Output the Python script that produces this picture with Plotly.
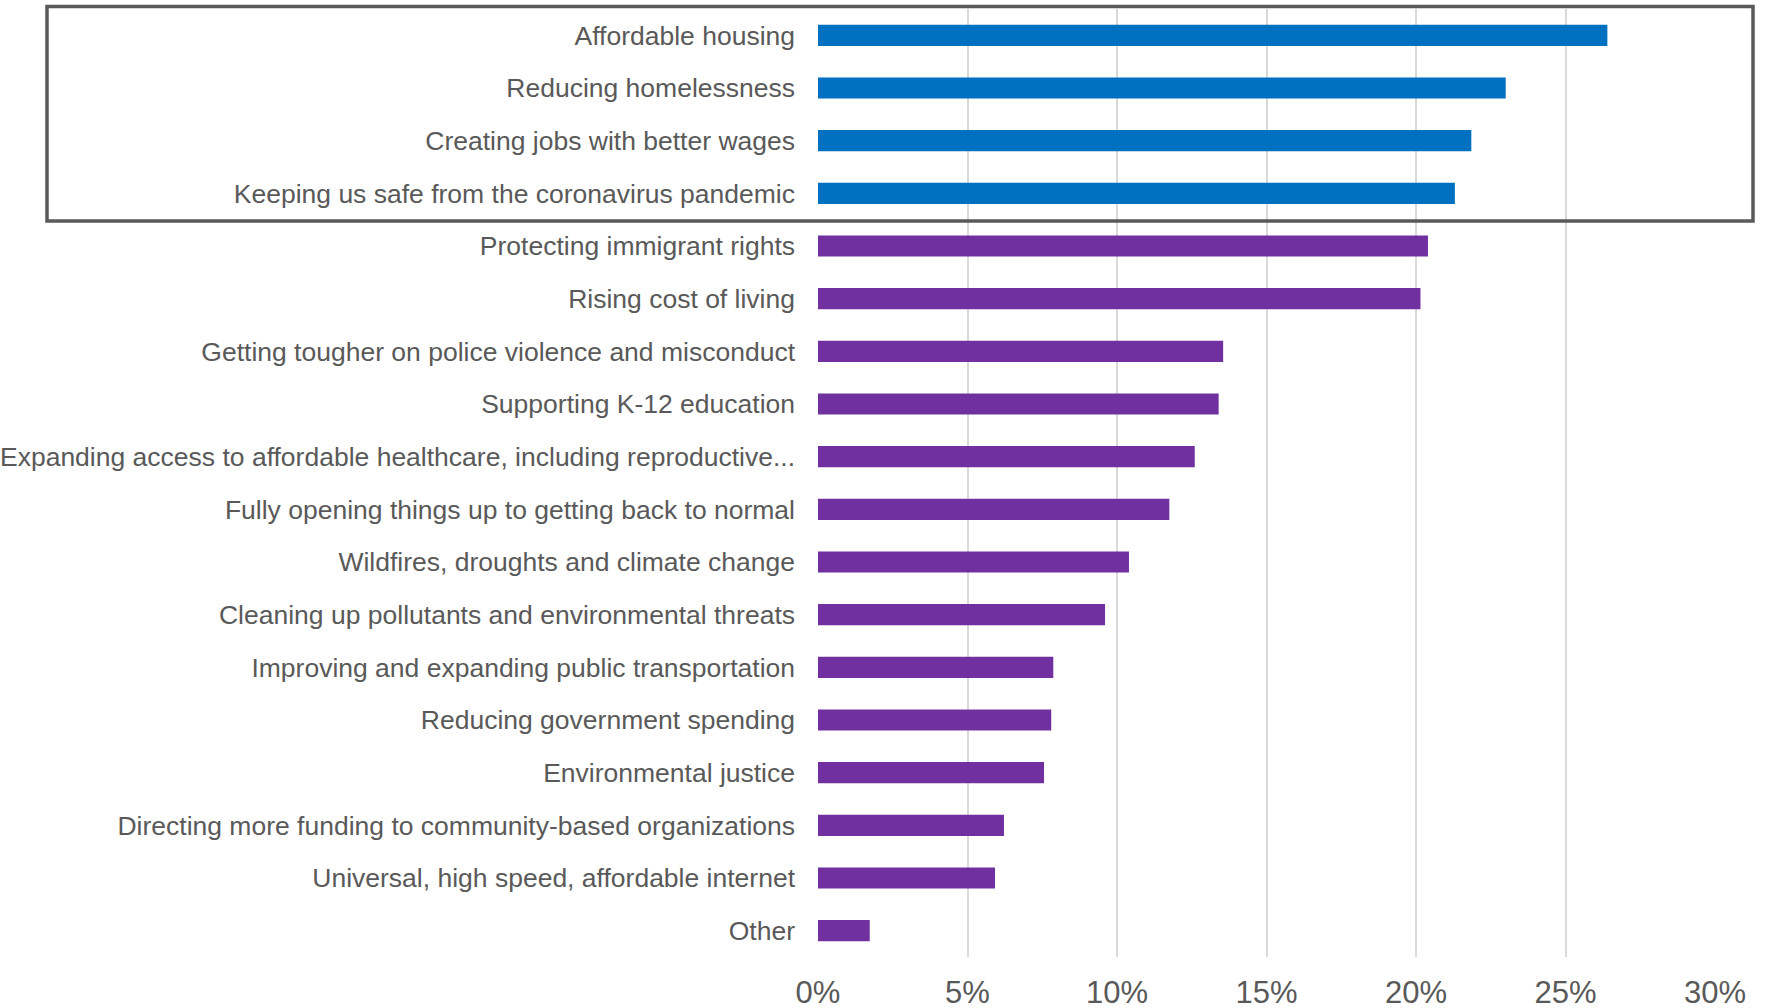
import plotly.graph_objects as go

categories = [
    "Affordable housing",
    "Reducing homelessness",
    "Creating jobs with better wages",
    "Keeping us safe from the coronavirus pandemic",
    "Protecting immigrant rights",
    "Rising cost of living",
    "Getting tougher on police violence and misconduct",
    "Supporting K-12 education",
    "Expanding access to affordable healthcare, including reproductive...",
    "Fully opening things up to getting back to normal",
    "Wildfires, droughts and climate change",
    "Cleaning up pollutants and environmental threats",
    "Improving and expanding public transportation",
    "Reducing government spending",
    "Environmental justice",
    "Directing more funding to community-based organizations",
    "Universal, high speed, affordable internet",
    "Other",
]
values = [26.4, 23.0, 21.85, 21.3, 20.4, 20.15, 13.55, 13.4, 12.6, 11.75,
          10.4, 9.6, 7.87, 7.8, 7.56, 6.22, 5.92, 1.73]
highlighted = 4  # number of top categories shown in blue inside the box

BLUE = "#0070C0"
PURPLE = "#7030A0"
colors = [BLUE if i < highlighted else PURPLE for i in range(len(categories))]

x_ticks = [0, 5, 10, 15, 20, 25, 30]
x_ticktext = [f"{t}%" for t in x_ticks]

W, H = 1765, 1008
ml, mr, mt, mb = 818, 50, 9, 51

fig = go.Figure(go.Bar(
    x=values, y=categories, orientation="h",
    marker=dict(color=colors, line=dict(width=0)),
    hoverinfo="x+y",
))

fig.update_layout(
    width=W, height=H,
    margin=dict(l=ml, r=mr, t=mt, b=mb, autoexpand=False),
    paper_bgcolor="white", plot_bgcolor="white",
    bargap=0.597,
    showlegend=False,
    font=dict(family="Liberation Sans, Arial, sans-serif", color="#595959"),
)
fig.update_xaxes(
    range=[0, 30], tickvals=x_ticks, ticktext=x_ticktext,
    showgrid=True, gridcolor="#D9D9D9", gridwidth=2,
    zeroline=False, showline=False, ticks="",
    tickfont=dict(size=31, color="#595959"),
    ticklabelstandoff=14, automargin=False, fixedrange=True,
)
fig.update_yaxes(
    categoryorder="array", categoryarray=categories, autorange="reversed",
    showgrid=False, zeroline=False, showline=False, ticks="",
    tickfont=dict(size=26.5, color="#595959"),
    ticklabelstandoff=22, automargin=False, fixedrange=True,
)

# highlight box around the top categories (paper coordinates)
plot_w = W - ml - mr
plot_h = H - mt - mb
box_left_px, box_right_px, box_top_px, box_bottom_px = 47, 1753, 6.5, 221
fig.add_shape(
    type="rect", xref="paper", yref="paper",
    x0=(box_left_px - ml) / plot_w, x1=(box_right_px - ml) / plot_w,
    y0=(H - mb - box_bottom_px) / plot_h, y1=(H - mb - box_top_px) / plot_h,
    line=dict(color="#595959", width=3.5), fillcolor="rgba(0,0,0,0)",
    layer="above",
)

fig.write_html(
    "out.html",
    config={"displayModeBar": False},
    post_script="document.body.style.margin='0';document.body.style.overflow='hidden';",
)
